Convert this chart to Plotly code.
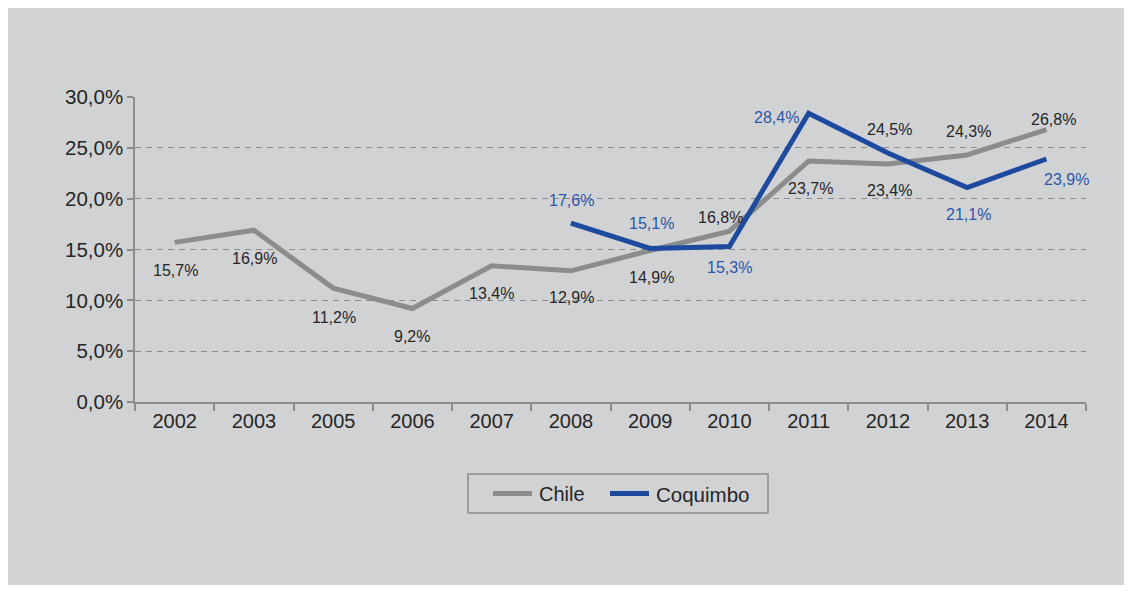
import plotly.graph_objects as go

# ---- data ----
years = ["2002", "2003", "2005", "2006", "2007", "2008", "2009", "2010", "2011", "2012", "2013", "2014"]
chile = [15.7, 16.9, 11.2, 9.2, 13.4, 12.9, 14.9, 16.8, 23.7, 23.4, 24.3, 26.8]
coq_years = ["2008", "2009", "2010", "2011", "2012", "2013", "2014"]
coquimbo = [17.6, 15.1, 15.3, 28.4, 24.5, 21.1, 23.9]
y_ticks = [0, 5, 10, 15, 20, 25, 30]
y_ticktext = ["0,0%", "5,0%", "10,0%", "15,0%", "20,0%", "25,0%", "30,0%"]
series_names = ["Chile", "Coquimbo"]

GRAY = "#8b8c8e"
BLUE = "#1d4a9e"
BLUE_TXT = "#2a57aa"
TXT = "#262626"
BG = "#d1d2d4"
FONT = "Liberation Sans, Arial, sans-serif"

# ---- label placement (pixel offsets: dx right, dy down) and label colours ----
chile_off = [(1, 28), (1, 28), (1, 29), (0, 28), (0, 28), (1, 27), (1, 27),
             (-9, -14), (2, 27), (2, 26), (1, -23), (7, -10)]
coq_off = [(1, -23), (1, -25), (0, 21), (-32, 4), (2, -23), (1, 27), (20, 20)]
coq_label_colors = [BLUE_TXT, BLUE_TXT, BLUE_TXT, BLUE_TXT, TXT, BLUE_TXT, BLUE_TXT]

def fmt(v):
    return f"{v:.1f}%".replace(".", ",")

fig = go.Figure()
fig.add_trace(go.Scatter(x=years, y=chile, mode="lines", name=series_names[0],
                         line=dict(color=GRAY, width=5), showlegend=False))
fig.add_trace(go.Scatter(x=coq_years, y=coquimbo, mode="lines", name=series_names[1],
                         line=dict(color=BLUE, width=5), showlegend=False))

annotations = []
for x, v, (dx, dy) in zip(years, chile, chile_off):
    annotations.append(dict(x=years.index(x), y=v, xref="x", yref="y", text=fmt(v), showarrow=False,
                            xanchor="center", yanchor="middle", xshift=dx, yshift=-dy,
                            font=dict(size=16, color=TXT, family=FONT)))
for x, v, (dx, dy), c in zip(coq_years, coquimbo, coq_off, coq_label_colors):
    annotations.append(dict(x=years.index(x), y=v, xref="x", yref="y", text=fmt(v), showarrow=False,
                            xanchor="center", yanchor="middle", xshift=dx, yshift=-dy,
                            font=dict(size=16, color=c, family=FONT)))

# page has an 8px body margin; figure coordinates = page - 8
W, H = 1124, 577
L, R, T, B = 127, 46, 89, 183
pw, ph = W - L - R, H - T - B

def px(page_x):
    return (page_x - 8 - L) / pw

def py(page_y):
    return (H - B - (page_y - 8)) / ph

shapes = [
    # legend box
    dict(type="rect", xref="paper", yref="paper", x0=px(468), x1=px(768), y0=py(513), y1=py(474),
         line=dict(color=GRAY, width=1.5), fillcolor="rgba(0,0,0,0)"),
    dict(type="line", xref="paper", yref="paper", x0=px(493), x1=px(532), y0=py(493.5), y1=py(493.5),
         line=dict(color=GRAY, width=5)),
    dict(type="line", xref="paper", yref="paper", x0=px(610), x1=px(649), y0=py(493.5), y1=py(493.5),
         line=dict(color=BLUE, width=5)),
]
annotations.append(dict(x=px(537), y=py(494), xref="paper", yref="paper", text=series_names[0],
                        showarrow=False, xanchor="left", yanchor="middle",
                        font=dict(size=20, color=TXT, family=FONT)))
annotations.append(dict(x=px(654), y=py(494), xref="paper", yref="paper", text=series_names[1],
                        showarrow=False, xanchor="left", yanchor="middle",
                        font=dict(size=20.5, color=TXT, family=FONT)))

fig.update_layout(
    width=W, height=H,
    margin=dict(l=L, r=R, t=T, b=B, pad=0),
    paper_bgcolor=BG,
    plot_bgcolor="rgba(0,0,0,0)",
    font=dict(family=FONT, color=TXT, size=20),
    annotations=annotations,
    shapes=shapes,
    showlegend=False,
)

fig.update_xaxes(type="category", categoryorder="array", categoryarray=years,
                 range=[-0.5, len(years) - 0.5],
                 showline=True, linecolor=GRAY, linewidth=1.5,
                 ticks="outside", tickson="boundaries", ticklen=7, tickcolor=GRAY, tickwidth=1.5,
                 showgrid=False, zeroline=False,
                 tickfont=dict(size=20, color=TXT, family=FONT))
fig.update_yaxes(range=[0, 30], tickvals=y_ticks, ticktext=y_ticktext,
                 showline=True, linecolor=GRAY, linewidth=1.5,
                 ticks="outside", ticklen=6, tickcolor=GRAY, tickwidth=1.5,
                 showgrid=True, gridcolor=GRAY, gridwidth=1, griddash="6px,5px",
                 zeroline=False,
                 tickfont=dict(size=20.5, color=TXT, family=FONT))

fig.write_html("out.html")
